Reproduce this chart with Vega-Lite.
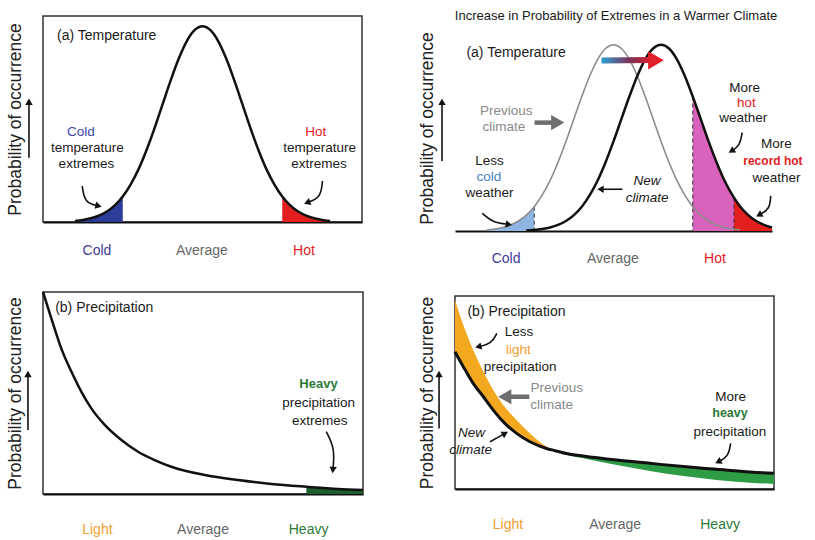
{
"$schema":"https://vega.github.io/schema/vega-lite/v6.json",
"padding":{"left":5,"top":10,"right":0,"bottom":0},
"config":{
 "view":{"stroke":"#333","strokeWidth":1.5},
 "font":"Liberation Sans",
 "axisX":{"domain":true,"domainColor":"#111","domainWidth":2,"ticks":false,"labels":false,"grid":false},
 "axisY":{"domain":false,"ticks":false,"labels":false,"grid":false,"titleFont":"Liberation Sans","titleFontSize":17.5,"titleFontWeight":"normal","titleColor":"#222","titlePadding":19},
 "text":{"font":"Liberation Sans"}
},
"datasets":{
 "tl":[{"x":10,"y":0.5},{"x":12.5,"y":1.0},{"x":15,"y":1.8},{"x":17.5,"y":3.1},{"x":20,"y":5.1},{"x":22.5,"y":8.1},{"x":25,"y":12.4},{"x":27.5,"y":18.3},{"x":30,"y":25.8},{"x":32.5,"y":35.1},{"x":35,"y":45.7},{"x":37.5,"y":57.2},{"x":40,"y":68.6},{"x":42.5,"y":79.1},{"x":45,"y":87.6},{"x":47.5,"y":93.1},{"x":50,"y":95},{"x":52.5,"y":93.1},{"x":55,"y":87.6},{"x":57.5,"y":79.1},{"x":60,"y":68.6},{"x":62.5,"y":57.2},{"x":65,"y":45.7},{"x":67.5,"y":35.1},{"x":70,"y":25.8},{"x":72.5,"y":18.3},{"x":75,"y":12.4},{"x":77.5,"y":8.1},{"x":80,"y":5.1},{"x":82.5,"y":3.1},{"x":85,"y":1.8},{"x":87.5,"y":1.0},{"x":90,"y":0.5}],
 "tr":[{"x":10,"prev":0.5,"new":0},{"x":12.5,"prev":1.0,"new":0},{"x":15,"prev":1.8,"new":0.03},{"x":17.5,"prev":3.1,"new":0.06},{"x":20,"prev":5.1,"new":0.13},{"x":22.5,"prev":8.1,"new":0.27},{"x":25,"prev":12.4,"new":0.5},{"x":27.5,"prev":18.3,"new":1.0},{"x":30,"prev":25.8,"new":1.8},{"x":32.5,"prev":35.1,"new":3.1},{"x":35,"prev":45.7,"new":5.1},{"x":37.5,"prev":57.2,"new":8.1},{"x":40,"prev":68.6,"new":12.4},{"x":42.5,"prev":79.1,"new":18.3},{"x":45,"prev":87.6,"new":25.8},{"x":47.5,"prev":93.1,"new":35.1},{"x":50,"prev":95,"new":45.7},{"x":52.5,"prev":93.1,"new":57.2},{"x":55,"prev":87.6,"new":68.6},{"x":57.5,"prev":79.1,"new":79.1},{"x":60,"prev":68.6,"new":87.6},{"x":62.5,"prev":57.2,"new":93.1},{"x":65,"prev":45.7,"new":95},{"x":67.5,"prev":35.1,"new":93.1},{"x":70,"prev":25.8,"new":87.6},{"x":72.5,"prev":18.3,"new":79.1},{"x":75,"prev":12.4,"new":68.6},{"x":77.5,"prev":8.1,"new":57.2},{"x":80,"prev":5.1,"new":45.7},{"x":82.5,"prev":3.1,"new":35.1},{"x":85,"prev":1.8,"new":25.8},{"x":88,"prev":0.87,"new":17.0},{"x":90,"prev":0.5,"new":12.4},{"x":92.5,"prev":0.27,"new":8.1},{"x":95,"prev":0.13,"new":5.1},{"x":97.5,"prev":0.06,"new":3.1},{"x":100,"prev":0.03,"new":1.8}],
 "tr_dash":[{"x":25,"top":12.4},{"x":75,"top":68.6},{"x":88,"top":17.0}],
 "bl":[{"x":0,"y":100},{"x":2.6,"y":87},{"x":5.7,"y":72.1},{"x":8.9,"y":60.5},{"x":12,"y":50.6},{"x":15.1,"y":42.4},{"x":19.3,"y":34.2},{"x":24.5,"y":26.7},{"x":29.7,"y":20.9},{"x":34.9,"y":16.8},{"x":40.1,"y":13.5},{"x":50.5,"y":9.4},{"x":60.9,"y":6.9},{"x":71.4,"y":5.0},{"x":82.3,"y":3.6},{"x":92.2,"y":2.5},{"x":100,"y":2.0}],
 "br":[{"x":0,"prev":97.9,"new":71.1},{"x":2.6,"prev":85.0,"new":63.4},{"x":5.7,"prev":72.0,"new":54.7},{"x":8.9,"prev":60.8,"new":47.8},{"x":12,"prev":51.3,"new":40.9},{"x":15.1,"prev":43.5,"new":34.9},{"x":19.3,"prev":35.8,"new":28.8},{"x":23.5,"prev":28.8,"new":24.5},{"x":28.7,"prev":21.9,"new":21.0},{"x":31,"prev":20.0,"new":20.0},{"x":35,"prev":17.6,"new":18.4},{"x":40.2,"prev":15.9,"new":17.1},{"x":50.7,"prev":12.4,"new":15.0},{"x":61.1,"prev":9.3,"new":13.3},{"x":71.6,"prev":6.7,"new":11.6},{"x":82,"prev":4.7,"new":10.2},{"x":92.5,"prev":3.3,"new":8.8},{"x":100,"prev":2.6,"new":8.1}],
 "ticks_top":[{"x":0},{"x":25},{"x":50},{"x":75},{"x":100}],
 "ticks_bl":[{"x":17},{"x":50},{"x":82.3}],
 "ticks_br":[{"x":17},{"x":49.9},{"x":82.3}],
 "tl_text":[
  {"x":4.4,"y":90.3,"text":"(a) Temperature","kind":"title","tone":"ink"},
  {"x":11.9,"y":43.7,"text":"Cold","kind":"note","tone":"cold"},
  {"x":13.9,"y":36.1,"text":"temperature","kind":"note","tone":"ink"},
  {"x":13.6,"y":28.2,"text":"extremes","kind":"note","tone":"ink"},
  {"x":85.5,"y":43.7,"text":"Hot","kind":"note","tone":"hot"},
  {"x":86.7,"y":36.1,"text":"temperature","kind":"note","tone":"ink"},
  {"x":86.5,"y":28.2,"text":"extremes","kind":"note","tone":"ink"},
  {"x":16.9,"y":-14.1,"text":"Cold","kind":"label","tone":"coldlabel"},
  {"x":49.8,"y":-14.1,"text":"Average","kind":"label","tone":"neutral"},
  {"x":81.8,"y":-14.1,"text":"Hot","kind":"label","tone":"hot"}],
 "tl_arrows":[
  {"id":"a1","seq":1,"x":12.3,"y":17.5},{"id":"a1","seq":2,"x":13.0,"y":9.4},{"id":"a1","seq":3,"x":17.4,"y":7.8},
  {"id":"a2","seq":1,"x":87.6,"y":19.9},{"id":"a2","seq":2,"x":87.1,"y":11.8},{"id":"a2","seq":3,"x":82.8,"y":9.4},
  {"id":"a3","seq":1,"x":-4.4,"y":31.2},{"id":"a3","seq":2,"x":-4.4,"y":58}],
 "tl_heads":[{"x":17.4,"y":7.8,"ang":14},{"x":82.8,"y":9.4,"ang":160},{"x":-4.4,"y":58.4,"ang":-90}],
 "tr_text":[
  {"x":50.8,"y":109.7,"text":"Increase in Probability of Extremes in a Warmer Climate","kind":"header","tone":"ink"},
  {"x":3.6,"y":91.0,"text":"(a) Temperature","kind":"title","tone":"ink"},
  {"x":16.2,"y":61.2,"text":"Previous","kind":"note","tone":"grey"},
  {"x":15.4,"y":53.1,"text":"climate","kind":"note","tone":"grey"},
  {"x":10.9,"y":35.7,"text":"Less","kind":"note","tone":"ink"},
  {"x":10.7,"y":27.6,"text":"cold","kind":"note","tone":"coldlight"},
  {"x":10.9,"y":19.5,"text":"weather","kind":"note","tone":"ink"},
  {"x":60.6,"y":25.5,"text":"New","kind":"new","tone":"ink"},
  {"x":60.6,"y":17.0,"text":"climate","kind":"new","tone":"ink"},
  {"x":91.4,"y":72.8,"text":"More","kind":"note","tone":"ink"},
  {"x":91.9,"y":65.5,"text":"hot","kind":"note","tone":"hot"},
  {"x":90.9,"y":57.8,"text":"weather","kind":"note","tone":"ink"},
  {"x":101.4,"y":44.2,"text":"More","kind":"note","tone":"ink"},
  {"x":100.3,"y":35.7,"text":"record hot","kind":"key","tone":"hot"},
  {"x":101.4,"y":27.2,"text":"weather","kind":"note","tone":"ink"},
  {"x":16.1,"y":-14.3,"text":"Cold","kind":"label","tone":"coldlabel"},
  {"x":49.8,"y":-14.3,"text":"Average","kind":"label","tone":"neutral"},
  {"x":82.0,"y":-14.3,"text":"Hot","kind":"label","tone":"hot"}],
 "tr_arrows":[
  {"id":"b1","seq":1,"x":8.6,"y":9.0,"kind":"thin"},{"id":"b1","seq":2,"x":12.0,"y":4.2,"kind":"thin"},{"id":"b1","seq":3,"x":17.0,"y":3.4,"kind":"thin"},
  {"id":"b2","seq":1,"x":52.8,"y":21.3,"kind":"thin"},{"id":"b2","seq":2,"x":46,"y":21.3,"kind":"thin"},
  {"id":"b3","seq":1,"x":90.6,"y":50.2,"kind":"thin"},{"id":"b3","seq":2,"x":89.8,"y":43.4,"kind":"thin"},{"id":"b3","seq":3,"x":87.2,"y":40.8,"kind":"thin"},
  {"id":"b4","seq":1,"x":99.6,"y":17.9,"kind":"thin"},{"id":"b4","seq":2,"x":99.3,"y":11.1,"kind":"thin"},{"id":"b4","seq":3,"x":95.9,"y":8.2,"kind":"thin"},
  {"id":"b5","seq":1,"x":-4.1,"y":35.7,"kind":"thin"},{"id":"b5","seq":2,"x":-4.1,"y":65,"kind":"thin"},
  {"id":"g1","seq":1,"x":25.1,"y":55.3,"kind":"grey"},{"id":"g1","seq":2,"x":32,"y":55.3,"kind":"grey"},
  {"id":"s1","seq":1,"x":46.2,"y":87.0,"kind":"shift"},{"id":"s1","seq":2,"x":61.8,"y":87.2,"kind":"shift"}],
 "tr_heads":[
  {"x":17.0,"y":3.4,"ang":10,"kind":"thin"},{"x":45.9,"y":21.3,"ang":180,"kind":"thin"},{"x":87.2,"y":40.8,"ang":148,"kind":"thin"},{"x":95.9,"y":8.2,"ang":152,"kind":"thin"},{"x":-4.1,"y":65.9,"ang":-90,"kind":"thin"},
  {"x":32.4,"y":55.3,"ang":0,"kind":"grey"},
  {"x":63.4,"y":87.1,"ang":0,"kind":"shift"}],
 "bl_text":[
  {"x":3.8,"y":92.2,"text":"(b) Precipitation","kind":"title","tone":"ink"},
  {"x":86.1,"y":54.3,"text":"Heavy","kind":"key","tone":"heavy"},
  {"x":86.1,"y":44.9,"text":"precipitation","kind":"note","tone":"ink"},
  {"x":86.5,"y":36.1,"text":"extremes","kind":"note","tone":"ink"},
  {"x":17,"y":-17.8,"text":"Light","kind":"label","tone":"light"},
  {"x":50,"y":-17.8,"text":"Average","kind":"label","tone":"neutral"},
  {"x":83,"y":-17.8,"text":"Heavy","kind":"label","tone":"heavy"}],
 "bl_arrows":[
  {"id":"c1","seq":1,"x":88.5,"y":30.9},{"id":"c1","seq":2,"x":91.2,"y":22.6},{"id":"c1","seq":3,"x":90.6,"y":11.9},
  {"id":"c2","seq":1,"x":-4.7,"y":31.7},{"id":"c2","seq":2,"x":-4.7,"y":58.5}],
 "bl_heads":[{"x":90.6,"y":11.9,"ang":95},{"x":-4.7,"y":59.4,"ang":-90}],
 "br_text":[
  {"x":3.9,"y":91.9,"text":"(b) Precipitation","kind":"title","tone":"ink"},
  {"x":20.1,"y":81.5,"text":"Less","kind":"note","tone":"ink"},
  {"x":19.9,"y":72.0,"text":"light","kind":"note","tone":"light"},
  {"x":20.4,"y":63.4,"text":"precipitation","kind":"note","tone":"ink"},
  {"x":31.9,"y":52.1,"text":"Previous","kind":"note","tone":"grey"},
  {"x":30.3,"y":43.5,"text":"climate","kind":"note","tone":"grey"},
  {"x":5.2,"y":28.8,"text":"New","kind":"new","tone":"ink"},
  {"x":4.9,"y":20.2,"text":"climate","kind":"new","tone":"ink"},
  {"x":86.4,"y":47.8,"text":"More","kind":"note","tone":"ink"},
  {"x":86.2,"y":39.2,"text":"heavy","kind":"key","tone":"heavy"},
  {"x":86.2,"y":29.7,"text":"precipitation","kind":"note","tone":"ink"},
  {"x":16.6,"y":-18.5,"text":"Light","kind":"label","tone":"light"},
  {"x":50.2,"y":-18.5,"text":"Average","kind":"label","tone":"neutral"},
  {"x":83.1,"y":-18.5,"text":"Heavy","kind":"label","tone":"heavy"}],
 "br_arrows":[
  {"id":"d1","seq":1,"x":13.1,"y":80.6,"kind":"thin"},{"id":"d1","seq":2,"x":11.5,"y":75.4,"kind":"thin"},{"id":"d1","seq":3,"x":7.3,"y":73.7,"kind":"thin"},
  {"id":"d2","seq":1,"x":11.0,"y":24.5,"kind":"thin"},{"id":"d2","seq":2,"x":15.7,"y":28.8,"kind":"thin"},
  {"id":"d3","seq":1,"x":86.4,"y":23.6,"kind":"thin"},{"id":"d3","seq":2,"x":85.7,"y":16.7,"kind":"thin"},{"id":"d3","seq":3,"x":82.5,"y":14.1,"kind":"thin"},
  {"id":"d4","seq":1,"x":-5.0,"y":31.4,"kind":"thin"},{"id":"d4","seq":2,"x":-5.0,"y":58.7,"kind":"thin"},
  {"id":"g2","seq":1,"x":23.3,"y":47.8,"kind":"grey"},{"id":"g2","seq":2,"x":16,"y":47.8,"kind":"grey"}],
 "br_heads":[
  {"x":7.3,"y":73.7,"ang":166,"kind":"thin"},{"x":15.7,"y":28.8,"ang":-29,"kind":"thin"},{"x":82.5,"y":14.1,"ang":154,"kind":"thin"},{"x":-5.0,"y":59.6,"ang":-90,"kind":"thin"},
  {"x":15.6,"y":47.8,"ang":180,"kind":"grey"}]
},
"spacing":48,
"resolve":{"scale":{"x":"independent","y":"independent"}},
"hconcat":[
 {"spacing":27,
  "resolve":{"scale":{"x":"independent","y":"independent"}},
  "vconcat":[
  {"width":319,"height":206,
   "encoding":{"x":{"field":"x","type":"quantitative","scale":{"domain":[0,100],"nice":false},"title":null},
               "y":{"field":"y","type":"quantitative","scale":{"domain":[0,100],"nice":false},"title":"Probability of occurrence"}},
   "layer":[
    {"data":{"name":"tl"},"transform":[{"filter":"datum.x <= 25"}],"mark":{"type":"area","color":"#2c3d99","interpolate":"monotone"}},
    {"data":{"name":"tl"},"transform":[{"filter":"datum.x >= 75"}],"mark":{"type":"area","color":"#e3201f","interpolate":"monotone"}},
    {"data":{"name":"tl"},"mark":{"type":"line","color":"#111","strokeWidth":2.5,"interpolate":"monotone"}},
    {"data":{"name":"ticks_top"},"mark":{"type":"rule","color":"#111","strokeWidth":1.5},"encoding":{"y":{"datum":0},"y2":{"datum":-5.3}}},
    {"data":{"name":"tl_text"},"transform":[{"filter":"datum.kind == 'title'"}],"mark":{"type":"text","align":"left","baseline":"middle","fontSize":14},"encoding":{"text":{"field":"text"},"color":{"field":"tone","type":"nominal","scale":{"domain":["ink","neutral","grey","cold","coldlabel","coldlight","hot","light","heavy"],"range":["#1a1a1a","#666666","#8a8a8a","#3b45a8","#3f3a9a","#4a80c8","#e3201f","#f0a030","#2c7a3a"]},"legend":null}}},
    {"data":{"name":"tl_text"},"transform":[{"filter":"datum.kind == 'note'"}],"mark":{"type":"text","align":"center","baseline":"middle","fontSize":13.5},"encoding":{"text":{"field":"text"},"color":{"field":"tone","type":"nominal","scale":{"domain":["ink","neutral","grey","cold","coldlabel","coldlight","hot","light","heavy"],"range":["#1a1a1a","#666666","#8a8a8a","#3b45a8","#3f3a9a","#4a80c8","#e3201f","#f0a030","#2c7a3a"]},"legend":null}}},
    {"data":{"name":"tl_text"},"transform":[{"filter":"datum.kind == 'label'"}],"mark":{"type":"text","align":"center","baseline":"middle","fontSize":14},"encoding":{"text":{"field":"text"},"color":{"field":"tone","type":"nominal","scale":{"domain":["ink","neutral","grey","cold","coldlabel","coldlight","hot","light","heavy"],"range":["#1a1a1a","#666666","#8a8a8a","#3b45a8","#3f3a9a","#4a80c8","#e3201f","#f0a030","#2c7a3a"]},"legend":null}}},
    {"data":{"name":"tl_arrows"},"mark":{"type":"line","interpolate":"basis","color":"#111","strokeWidth":1.6},"encoding":{"detail":{"field":"id"},"order":{"field":"seq"}}},
    {"data":{"name":"tl_heads"},"mark":{"type":"point","shape":"triangle-right","filled":true,"opacity":1,"color":"#111","size":55},"encoding":{"angle":{"field":"ang","type":"quantitative","scale":null}}}
   ]},
  {"width":320,"height":202,
   "encoding":{"x":{"field":"x","type":"quantitative","scale":{"domain":[0,100],"nice":false},"title":null},
               "y":{"field":"y","type":"quantitative","scale":{"domain":[0,100],"nice":false},"title":"Probability of occurrence"}},
   "layer":[
    {"data":{"name":"bl"},"transform":[{"filter":"datum.x >= 82.3"}],"mark":{"type":"area","color":"#1d5f2c","interpolate":"monotone"}},
    {"data":{"name":"bl"},"mark":{"type":"line","color":"#111","strokeWidth":2.5,"interpolate":"monotone"}},
    {"data":{"name":"ticks_bl"},"mark":{"type":"rule","color":"#111","strokeWidth":1.5},"encoding":{"y":{"datum":4.5},"y2":{"datum":-5.4}}},
    {"data":{"name":"bl_text"},"transform":[{"filter":"datum.kind == 'title'"}],"mark":{"type":"text","align":"left","baseline":"middle","fontSize":14},"encoding":{"text":{"field":"text"},"color":{"field":"tone","type":"nominal","scale":{"domain":["ink","neutral","grey","cold","coldlabel","coldlight","hot","light","heavy"],"range":["#1a1a1a","#666666","#8a8a8a","#3b45a8","#3f3a9a","#4a80c8","#e3201f","#f0a030","#2c7a3a"]},"legend":null}}},
    {"data":{"name":"bl_text"},"transform":[{"filter":"datum.kind == 'note'"}],"mark":{"type":"text","align":"center","baseline":"middle","fontSize":13.5},"encoding":{"text":{"field":"text"},"color":{"field":"tone","type":"nominal","scale":{"domain":["ink","neutral","grey","cold","coldlabel","coldlight","hot","light","heavy"],"range":["#1a1a1a","#666666","#8a8a8a","#3b45a8","#3f3a9a","#4a80c8","#e3201f","#f0a030","#2c7a3a"]},"legend":null}}},
    {"data":{"name":"bl_text"},"transform":[{"filter":"datum.kind == 'key'"}],"mark":{"type":"text","align":"center","baseline":"middle","fontSize":13,"fontWeight":"bold"},"encoding":{"text":{"field":"text"},"color":{"field":"tone","type":"nominal","scale":{"domain":["ink","neutral","grey","cold","coldlabel","coldlight","hot","light","heavy"],"range":["#1a1a1a","#666666","#8a8a8a","#3b45a8","#3f3a9a","#4a80c8","#e3201f","#f0a030","#2c7a3a"]},"legend":null}}},
    {"data":{"name":"bl_text"},"transform":[{"filter":"datum.kind == 'label'"}],"mark":{"type":"text","align":"center","baseline":"middle","fontSize":14},"encoding":{"text":{"field":"text"},"color":{"field":"tone","type":"nominal","scale":{"domain":["ink","neutral","grey","cold","coldlabel","coldlight","hot","light","heavy"],"range":["#1a1a1a","#666666","#8a8a8a","#3b45a8","#3f3a9a","#4a80c8","#e3201f","#f0a030","#2c7a3a"]},"legend":null}}},
    {"data":{"name":"bl_arrows"},"mark":{"type":"line","interpolate":"basis","color":"#111","strokeWidth":1.6},"encoding":{"detail":{"field":"id"},"order":{"field":"seq"}}},
    {"data":{"name":"bl_heads"},"mark":{"type":"point","shape":"triangle-right","filled":true,"opacity":1,"color":"#111","size":55},"encoding":{"angle":{"field":"ang","type":"quantitative","scale":null}}}
   ]}
 ]},
 {"spacing":28,
  "resolve":{"scale":{"x":"independent","y":"independent"}},
  "vconcat":[
  {"width":317,"height":215,
   "view":{"stroke":null},
   "encoding":{"x":{"field":"x","type":"quantitative","scale":{"domain":[0,100],"nice":false},"title":null},
               "y":{"field":"y","type":"quantitative","scale":{"domain":[0,109.7],"nice":false},"title":"Probability of occurrence","axis":{"titleY":112}}},
   "layer":[
    {"data":{"name":"tr"},"transform":[{"filter":"datum.x <= 25"}],"mark":{"type":"area","color":"#8fb6e3","interpolate":"monotone"},"encoding":{"y":{"field":"prev","type":"quantitative","scale":{"domain":[0,109.7],"nice":false},"title":"Probability of occurrence"}}},
    {"data":{"name":"tr"},"transform":[{"filter":"datum.x >= 75 && datum.x <= 88"}],"mark":{"type":"area","color":"#d862bc","interpolate":"monotone"},"encoding":{"y":{"field":"new","type":"quantitative","scale":{"domain":[0,109.7],"nice":false},"title":"Probability of occurrence"}}},
    {"data":{"name":"tr"},"transform":[{"filter":"datum.x >= 88"}],"mark":{"type":"area","color":"#e3201f","interpolate":"monotone"},"encoding":{"y":{"field":"new","type":"quantitative","scale":{"domain":[0,109.7],"nice":false},"title":"Probability of occurrence"}}},
    {"data":{"name":"tr_dash"},"mark":{"type":"rule","color":"#333","strokeWidth":1,"strokeDash":[4,3]},"encoding":{"y":{"field":"top","type":"quantitative","scale":{"domain":[0,109.7],"nice":false},"title":"Probability of occurrence"},"y2":{"datum":0}}},
    {"data":{"name":"tr"},"transform":[{"filter":"datum.x <= 90"}],"mark":{"type":"line","color":"#8c8c8c","strokeWidth":1.6,"interpolate":"monotone"},"encoding":{"y":{"field":"prev","type":"quantitative","scale":{"domain":[0,109.7],"nice":false},"title":"Probability of occurrence"}}},
    {"data":{"name":"tr"},"transform":[{"filter":"datum.x >= 22.5"}],"mark":{"type":"line","color":"#111","strokeWidth":2.5,"interpolate":"monotone"},"encoding":{"y":{"field":"new","type":"quantitative","scale":{"domain":[0,109.7],"nice":false},"title":"Probability of occurrence"}}},
    {"data":{"values":[{}]},"mark":{"type":"rule","color":"#333","strokeWidth":1.5},"encoding":{"x":{"datum":0},"y":{"datum":0},"y2":{"datum":100}}},
    {"data":{"values":[{}]},"mark":{"type":"rule","color":"#333","strokeWidth":1.5},"encoding":{"x":{"datum":100},"y":{"datum":0},"y2":{"datum":100}}},
    {"data":{"values":[{}]},"mark":{"type":"rule","color":"#333","strokeWidth":1.5},"encoding":{"x":{"datum":0},"x2":{"datum":100},"y":{"datum":100}}},
    {"data":{"name":"ticks_top"},"mark":{"type":"rule","color":"#111","strokeWidth":1.5},"encoding":{"y":{"datum":0},"y2":{"datum":-5.1}}},
    {"data":{"name":"tr_text"},"transform":[{"filter":"datum.kind == 'header'"}],"mark":{"type":"text","align":"center","baseline":"middle","fontSize":13},"encoding":{"text":{"field":"text"},"color":{"field":"tone","type":"nominal","scale":{"domain":["ink","neutral","grey","cold","coldlabel","coldlight","hot","light","heavy"],"range":["#1a1a1a","#666666","#8a8a8a","#3b45a8","#3f3a9a","#4a80c8","#e3201f","#f0a030","#2c7a3a"]},"legend":null}}},
    {"data":{"name":"tr_text"},"transform":[{"filter":"datum.kind == 'title'"}],"mark":{"type":"text","align":"left","baseline":"middle","fontSize":14},"encoding":{"text":{"field":"text"},"color":{"field":"tone","type":"nominal","scale":{"domain":["ink","neutral","grey","cold","coldlabel","coldlight","hot","light","heavy"],"range":["#1a1a1a","#666666","#8a8a8a","#3b45a8","#3f3a9a","#4a80c8","#e3201f","#f0a030","#2c7a3a"]},"legend":null}}},
    {"data":{"name":"tr_text"},"transform":[{"filter":"datum.kind == 'note'"}],"mark":{"type":"text","align":"center","baseline":"middle","fontSize":13.5},"encoding":{"text":{"field":"text"},"color":{"field":"tone","type":"nominal","scale":{"domain":["ink","neutral","grey","cold","coldlabel","coldlight","hot","light","heavy"],"range":["#1a1a1a","#666666","#8a8a8a","#3b45a8","#3f3a9a","#4a80c8","#e3201f","#f0a030","#2c7a3a"]},"legend":null}}},
    {"data":{"name":"tr_text"},"transform":[{"filter":"datum.kind == 'key'"}],"mark":{"type":"text","align":"center","baseline":"middle","fontSize":12,"fontWeight":"bold"},"encoding":{"text":{"field":"text"},"color":{"field":"tone","type":"nominal","scale":{"domain":["ink","neutral","grey","cold","coldlabel","coldlight","hot","light","heavy"],"range":["#1a1a1a","#666666","#8a8a8a","#3b45a8","#3f3a9a","#4a80c8","#e3201f","#f0a030","#2c7a3a"]},"legend":null}}},
    {"data":{"name":"tr_text"},"transform":[{"filter":"datum.kind == 'new'"}],"mark":{"type":"text","align":"center","baseline":"middle","fontSize":13.5,"fontStyle":"italic"},"encoding":{"text":{"field":"text"},"color":{"field":"tone","type":"nominal","scale":{"domain":["ink","neutral","grey","cold","coldlabel","coldlight","hot","light","heavy"],"range":["#1a1a1a","#666666","#8a8a8a","#3b45a8","#3f3a9a","#4a80c8","#e3201f","#f0a030","#2c7a3a"]},"legend":null}}},
    {"data":{"name":"tr_text"},"transform":[{"filter":"datum.kind == 'label'"}],"mark":{"type":"text","align":"center","baseline":"middle","fontSize":14},"encoding":{"text":{"field":"text"},"color":{"field":"tone","type":"nominal","scale":{"domain":["ink","neutral","grey","cold","coldlabel","coldlight","hot","light","heavy"],"range":["#1a1a1a","#666666","#8a8a8a","#3b45a8","#3f3a9a","#4a80c8","#e3201f","#f0a030","#2c7a3a"]},"legend":null}}},
    {"data":{"name":"tr_arrows"},"transform":[{"filter":"datum.kind == 'thin'"}],"mark":{"type":"line","interpolate":"basis","color":"#111","strokeWidth":1.6},"encoding":{"detail":{"field":"id"},"order":{"field":"seq"}}},
    {"data":{"name":"tr_arrows"},"transform":[{"filter":"datum.kind == 'grey'"}],"mark":{"type":"line","color":"#6e6e6e","strokeWidth":4.5},"encoding":{"detail":{"field":"id"},"order":{"field":"seq"}}},
    {"data":{"name":"tr_arrows"},"transform":[{"filter":"datum.kind == 'shift'"}],"mark":{"type":"line","strokeWidth":6,"color":{"gradient":"linear","x1":0,"y1":0,"x2":1,"y2":0,"stops":[{"offset":0,"color":"#2aa0d8"},{"offset":0.55,"color":"#7a3258"},{"offset":1,"color":"#d8202c"}]}},"encoding":{"detail":{"field":"id"},"order":{"field":"seq"}}},
    {"data":{"name":"tr_heads"},"transform":[{"filter":"datum.kind == 'thin'"}],"mark":{"type":"point","shape":"triangle-right","filled":true,"opacity":1,"color":"#111","size":55},"encoding":{"angle":{"field":"ang","type":"quantitative","scale":null}}},
    {"data":{"name":"tr_heads"},"transform":[{"filter":"datum.kind == 'grey'"}],"mark":{"type":"point","shape":"triangle-right","filled":true,"opacity":1,"color":"#6e6e6e","size":230},"encoding":{"angle":{"field":"ang","type":"quantitative","scale":null}}},
    {"data":{"name":"tr_heads"},"transform":[{"filter":"datum.kind == 'shift'"}],"mark":{"type":"point","shape":"triangle-right","filled":true,"opacity":1,"color":"#e0202a","size":330},"encoding":{"angle":{"field":"ang","type":"quantitative","scale":null}}}
   ]},
  {"width":319,"height":193,
   "encoding":{"x":{"field":"x","type":"quantitative","scale":{"domain":[0,100],"nice":false},"title":null},
               "y":{"field":"y","type":"quantitative","scale":{"domain":[0,100],"nice":false},"title":"Probability of occurrence"}},
   "layer":[
    {"data":{"name":"br"},"transform":[{"filter":"datum.x <= 31"}],"mark":{"type":"area","color":"#f4a81f","interpolate":"monotone"},"encoding":{"y":{"field":"prev","type":"quantitative","scale":{"domain":[0,100],"nice":false},"title":"Probability of occurrence"},"y2":{"field":"new"}}},
    {"data":{"name":"br"},"transform":[{"filter":"datum.x >= 31"}],"mark":{"type":"area","color":"#2e9b45","interpolate":"monotone"},"encoding":{"y":{"field":"new","type":"quantitative","scale":{"domain":[0,100],"nice":false},"title":"Probability of occurrence"},"y2":{"field":"prev"}}},
    {"data":{"name":"br"},"mark":{"type":"line","color":"#111","strokeWidth":3,"interpolate":"monotone"},"encoding":{"y":{"field":"new","type":"quantitative","scale":{"domain":[0,100],"nice":false},"title":"Probability of occurrence"}}},
    {"data":{"name":"ticks_br"},"mark":{"type":"rule","color":"#111","strokeWidth":1.5},"encoding":{"y":{"datum":3.8},"y2":{"datum":-5.7}}},
    {"data":{"name":"br_text"},"transform":[{"filter":"datum.kind == 'title'"}],"mark":{"type":"text","align":"left","baseline":"middle","fontSize":14},"encoding":{"text":{"field":"text"},"color":{"field":"tone","type":"nominal","scale":{"domain":["ink","neutral","grey","cold","coldlabel","coldlight","hot","light","heavy"],"range":["#1a1a1a","#666666","#8a8a8a","#3b45a8","#3f3a9a","#4a80c8","#e3201f","#f0a030","#2c7a3a"]},"legend":null}}},
    {"data":{"name":"br_text"},"transform":[{"filter":"datum.kind == 'note'"}],"mark":{"type":"text","align":"center","baseline":"middle","fontSize":13.5},"encoding":{"text":{"field":"text"},"color":{"field":"tone","type":"nominal","scale":{"domain":["ink","neutral","grey","cold","coldlabel","coldlight","hot","light","heavy"],"range":["#1a1a1a","#666666","#8a8a8a","#3b45a8","#3f3a9a","#4a80c8","#e3201f","#f0a030","#2c7a3a"]},"legend":null}}},
    {"data":{"name":"br_text"},"transform":[{"filter":"datum.kind == 'key'"}],"mark":{"type":"text","align":"center","baseline":"middle","fontSize":12.5,"fontWeight":"bold"},"encoding":{"text":{"field":"text"},"color":{"field":"tone","type":"nominal","scale":{"domain":["ink","neutral","grey","cold","coldlabel","coldlight","hot","light","heavy"],"range":["#1a1a1a","#666666","#8a8a8a","#3b45a8","#3f3a9a","#4a80c8","#e3201f","#f0a030","#2c7a3a"]},"legend":null}}},
    {"data":{"name":"br_text"},"transform":[{"filter":"datum.kind == 'new'"}],"mark":{"type":"text","align":"center","baseline":"middle","fontSize":13.5,"fontStyle":"italic"},"encoding":{"text":{"field":"text"},"color":{"field":"tone","type":"nominal","scale":{"domain":["ink","neutral","grey","cold","coldlabel","coldlight","hot","light","heavy"],"range":["#1a1a1a","#666666","#8a8a8a","#3b45a8","#3f3a9a","#4a80c8","#e3201f","#f0a030","#2c7a3a"]},"legend":null}}},
    {"data":{"name":"br_text"},"transform":[{"filter":"datum.kind == 'label'"}],"mark":{"type":"text","align":"center","baseline":"middle","fontSize":14},"encoding":{"text":{"field":"text"},"color":{"field":"tone","type":"nominal","scale":{"domain":["ink","neutral","grey","cold","coldlabel","coldlight","hot","light","heavy"],"range":["#1a1a1a","#666666","#8a8a8a","#3b45a8","#3f3a9a","#4a80c8","#e3201f","#f0a030","#2c7a3a"]},"legend":null}}},
    {"data":{"name":"br_arrows"},"transform":[{"filter":"datum.kind == 'thin'"}],"mark":{"type":"line","interpolate":"basis","color":"#111","strokeWidth":1.6},"encoding":{"detail":{"field":"id"},"order":{"field":"seq"}}},
    {"data":{"name":"br_arrows"},"transform":[{"filter":"datum.kind == 'grey'"}],"mark":{"type":"line","color":"#6e6e6e","strokeWidth":4.5},"encoding":{"detail":{"field":"id"},"order":{"field":"seq"}}},
    {"data":{"name":"br_heads"},"transform":[{"filter":"datum.kind == 'thin'"}],"mark":{"type":"point","shape":"triangle-right","filled":true,"opacity":1,"color":"#111","size":55},"encoding":{"angle":{"field":"ang","type":"quantitative","scale":null}}},
    {"data":{"name":"br_heads"},"transform":[{"filter":"datum.kind == 'grey'"}],"mark":{"type":"point","shape":"triangle-right","filled":true,"opacity":1,"color":"#6e6e6e","size":230},"encoding":{"angle":{"field":"ang","type":"quantitative","scale":null}}}
   ]}
 ]}
]
}
